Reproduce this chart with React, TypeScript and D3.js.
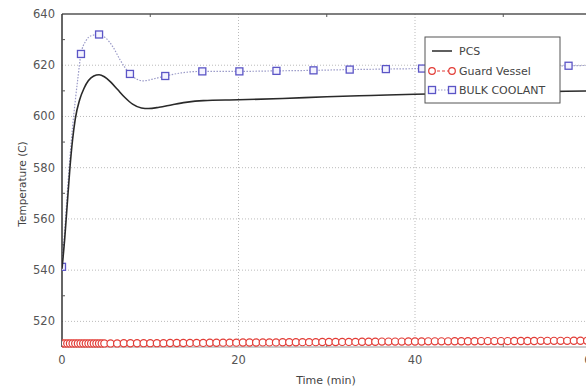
import React from "react";
import * as d3 from "d3";

// ---- data ----
const pcsTimes = [0, 0.3, 0.6, 0.9, 1.2, 1.5, 2.0, 2.5, 3.0, 3.6, 4.2, 4.8, 5.5, 6.3, 7.1, 8.0, 9.0, 9.8, 11, 12.5, 14, 16, 20, 25, 30, 35, 40, 45, 50, 55, 60, 62];
const pcsValues = [540.5, 552, 566, 580, 591, 599, 606.5, 611, 614, 615.8, 616.3, 615.5, 613.5, 610.5, 607.5, 604.8, 603.3, 603.1, 603.6, 604.6, 605.5, 606.2, 606.5, 607, 607.7, 608.2, 608.7, 609, 609.4, 609.7, 610, 610.1];

const bulkLineTimes = [0, 0.3, 0.6, 0.9, 1.2, 1.5, 1.8, 2.15, 2.7, 3.3, 4.2, 5.0, 5.8, 6.6, 7.7, 8.5, 9.2, 10.3, 11.7, 13.5, 15.9, 20.1, 24.3, 28.5, 32.6, 36.7, 40.8, 44.9, 49.1, 53.2, 57.4, 61.5];
const bulkLineValues = [541.3, 555, 570, 584, 596, 606, 615, 624.4, 629.5, 631.5, 632, 630.5, 627, 622, 616.6, 614.5, 613.9, 614.6, 615.8, 617, 617.6, 617.6, 617.8, 618, 618.3, 618.5, 618.7, 619, 619.2, 619.5, 619.8, 620];
const bulkMarkerTimes = [0, 2.15, 4.2, 7.7, 11.7, 15.9, 20.1, 24.3, 28.5, 32.6, 36.7, 40.8, 44.9, 49.1, 53.2, 57.4, 61.5];
const bulkMarkerValues = [541.3, 624.4, 632, 616.6, 615.8, 617.6, 617.6, 617.8, 618, 618.3, 618.5, 618.7, 619, 619.2, 619.5, 619.8, 620];

const guardTimes = [
  0, 0.3, 0.6, 0.9, 1.2, 1.5, 1.8, 2.1, 2.4, 2.7, 3.0, 3.3, 3.6, 3.9, 4.2, 4.5, 4.8,
  5.5, 6.25, 7, 7.75, 8.5, 9.25, 10, 10.75,
  11.5, 12.25, 13, 13.75, 14.5, 15.25, 16, 16.75,
  17.5, 18.25, 19, 19.75, 20.5, 21.25, 22, 22.75,
  23.5, 24.25, 25, 25.75, 26.5, 27.25, 28, 28.75,
  29.5, 30.25, 31, 31.75, 32.5, 33.25, 34, 34.75,
  35.5, 36.25, 37, 37.75, 38.5, 39.25, 40, 40.75,
  41.5, 42.25, 43, 43.75, 44.5, 45.25, 46, 46.75,
  47.5, 48.25, 49, 49.75, 50.5, 51.25, 52, 52.75,
  53.5, 54.25, 55, 55.75, 56.5, 57.25, 58, 58.75,
  59.5, 60.25, 61, 61.75,
];
const guardValues = [
  511.4, 511.4, 511.4, 511.4, 511.4, 511.4, 511.4, 511.4, 511.4, 511.4, 511.4, 511.4, 511.4, 511.4, 511.4, 511.4, 511.4,
  511.4, 511.4, 511.45, 511.45, 511.45, 511.5, 511.5, 511.5,
  511.5, 511.55, 511.55, 511.55, 511.6, 511.6, 511.6, 511.65,
  511.65, 511.7, 511.7, 511.7, 511.75, 511.75, 511.75, 511.8,
  511.8, 511.8, 511.85, 511.85, 511.85, 511.9, 511.9, 511.9,
  511.95, 511.95, 511.95, 512, 512, 512, 512.05, 512.05,
  512.05, 512.1, 512.1, 512.1, 512.1, 512.15, 512.15, 512.15,
  512.2, 512.2, 512.2, 512.2, 512.25, 512.25, 512.25, 512.25,
  512.3, 512.3, 512.3, 512.3, 512.3, 512.35, 512.35, 512.35,
  512.35, 512.4, 512.4, 512.4, 512.4, 512.4, 512.45, 512.45,
  512.45, 512.45, 512.5, 512.5,
];

const yTicks = [520, 540, 560, 580, 600, 620, 640];
const yMinorTicks = [530, 550, 570, 590, 610, 630];
const xTicks = [0, 20, 40, 60];
const xMinorTicks = [10, 30, 50];

const legendLabels = ["PCS", "Guard Vessel", "BULK COOLANT"];

export default function App() {
  const W = 586, H = 387;
  const left = 62, top = 14, bottom = 347;
  const x = d3.scaleLinear().domain([0, 60]).range([left, 591.5]);
  const y = d3.scaleLinear().domain([510, 640]).range([bottom, top]);
  const font = "DejaVu Sans, Verdana, sans-serif";

  const pcsLine = d3.line<number>().x((_, i) => x(pcsTimes[i])).y((d) => y(d)).curve(d3.curveMonotoneX);
  const bulkLine = d3.line<number>().x((_, i) => x(bulkLineTimes[i])).y((d) => y(d)).curve(d3.curveMonotoneX);
  const guardLine = d3.line<number>().x((_, i) => x(guardTimes[i])).y((d) => y(d));

  const blue = "#5b55c6";
  const red = "#e23c36";

  const lgX = 425, lgY = 37, lgW = 135, lgH = 66;
  const rowY = [51, 71, 90];

  return (
    <svg width={W} height={H} style={{ position: "absolute", left: 0, top: 0, background: "#fff" }} fontFamily={font}>
      <defs>
        <clipPath id="plot">
          <rect x={left} y={top - 5} width={W - left} height={bottom - top + 10} />
        </clipPath>
      </defs>
      <rect x={0} y={0} width={W} height={H} fill="#fff" />
      {/* grid */}
      {yTicks.filter((t) => t !== 640 && t !== 510).map((t) => (
        <line key={"gy" + t} x1={left} x2={W} y1={y(t)} y2={y(t)} stroke="#bbb" strokeWidth={1} strokeDasharray="1,2" />
      ))}
      {xTicks.filter((t) => t !== 0).map((t) => (
        <line key={"gx" + t} x1={x(t)} x2={x(t)} y1={top} y2={bottom} stroke="#bbb" strokeWidth={1} strokeDasharray="1,2" />
      ))}
      {/* frame */}
      <line x1={left} x2={W} y1={top} y2={top} stroke="#555" strokeWidth={1.5} />
      <line x1={left} x2={W} y1={bottom} y2={bottom} stroke="#999" strokeWidth={1} />
      <line x1={left} x2={left} y1={top} y2={bottom} stroke="#333" strokeWidth={1.5} />
      {yMinorTicks.map((t) => (
        <line key={"my" + t} x1={left} x2={left + 3} y1={y(t)} y2={y(t)} stroke="#555" />
      ))}
      {xMinorTicks.map((t) => (
        <g key={"mx" + t}>
          <line x1={x(t)} x2={x(t)} y1={top} y2={top + 3} stroke="#555" />
          <line x1={x(t)} x2={x(t)} y1={bottom} y2={bottom - 3} stroke="#777" />
        </g>
      ))}
      {/* tick labels */}
      {yTicks.map((t) => (
        <text key={"ty" + t} x={55} y={y(t) + 4} textAnchor="end" fontSize={11.5} fill="#555">{t}</text>
      ))}
      {xTicks.map((t) => (
        <text key={"tx" + t} x={x(t)} y={364} textAnchor="middle" fontSize={11.5} fill="#555">{t}</text>
      ))}
      <text x={326} y={384} textAnchor="middle" fontSize={11} fill="#444">Time (min)</text>
      <text transform="translate(26,184) rotate(-90)" textAnchor="middle" fontSize={10.5} fill="#444">Temperature (C)</text>

      {/* series */}
      <g clipPath="url(#plot)">
        <path d={guardLine(guardValues) || ""} fill="none" stroke={red} strokeWidth={1} strokeDasharray="3,2" />
        {guardValues.map((v, i) => (
          <circle key={"g" + i} cx={x(guardTimes[i])} cy={y(v)} r={3.6} fill="#fff" stroke={red} strokeWidth={1.2} />
        ))}
        <path d={bulkLine(bulkLineValues) || ""} fill="none" stroke="#9a9ac8" strokeWidth={1.2} strokeDasharray="1.5,1.5" />
        {bulkMarkerValues.map((v, i) => (
          <rect key={"b" + i} x={x(bulkMarkerTimes[i]) - 3.5} y={y(v) - 3.5} width={7} height={7} fill="#f4f3ff" stroke={blue} strokeWidth={1.3} />
        ))}
        <path d={pcsLine(pcsValues) || ""} fill="none" stroke="#2a2a2a" strokeWidth={1.6} />
      </g>

      {/* legend */}
      <rect x={lgX} y={lgY} width={lgW} height={lgH} fill="#fff" stroke="#555" strokeWidth={1} />
      <line x1={432} x2={452} y1={rowY[0]} y2={rowY[0]} stroke="#2a2a2a" strokeWidth={1.5} />
      <line x1={432} x2={452} y1={rowY[1]} y2={rowY[1]} stroke={red} strokeWidth={1} strokeDasharray="3,2" />
      <circle cx={432} cy={rowY[1]} r={3.3} fill="#fff" stroke={red} strokeWidth={1.2} />
      <circle cx={452} cy={rowY[1]} r={3.3} fill="#fff" stroke={red} strokeWidth={1.2} />
      <line x1={432} x2={452} y1={rowY[2]} y2={rowY[2]} stroke="#9a9ac8" strokeWidth={1.2} strokeDasharray="1.5,1.5" />
      <rect x={428.5} y={rowY[2] - 3.5} width={7} height={7} fill="#f4f3ff" stroke={blue} strokeWidth={1.3} />
      <rect x={448.5} y={rowY[2] - 3.5} width={7} height={7} fill="#f4f3ff" stroke={blue} strokeWidth={1.3} />
      {legendLabels.map((l, i) => (
        <text key={l} x={459} y={rowY[i] + 4} fontSize={11} fill="#444">{l}</text>
      ))}
    </svg>
  );
}
